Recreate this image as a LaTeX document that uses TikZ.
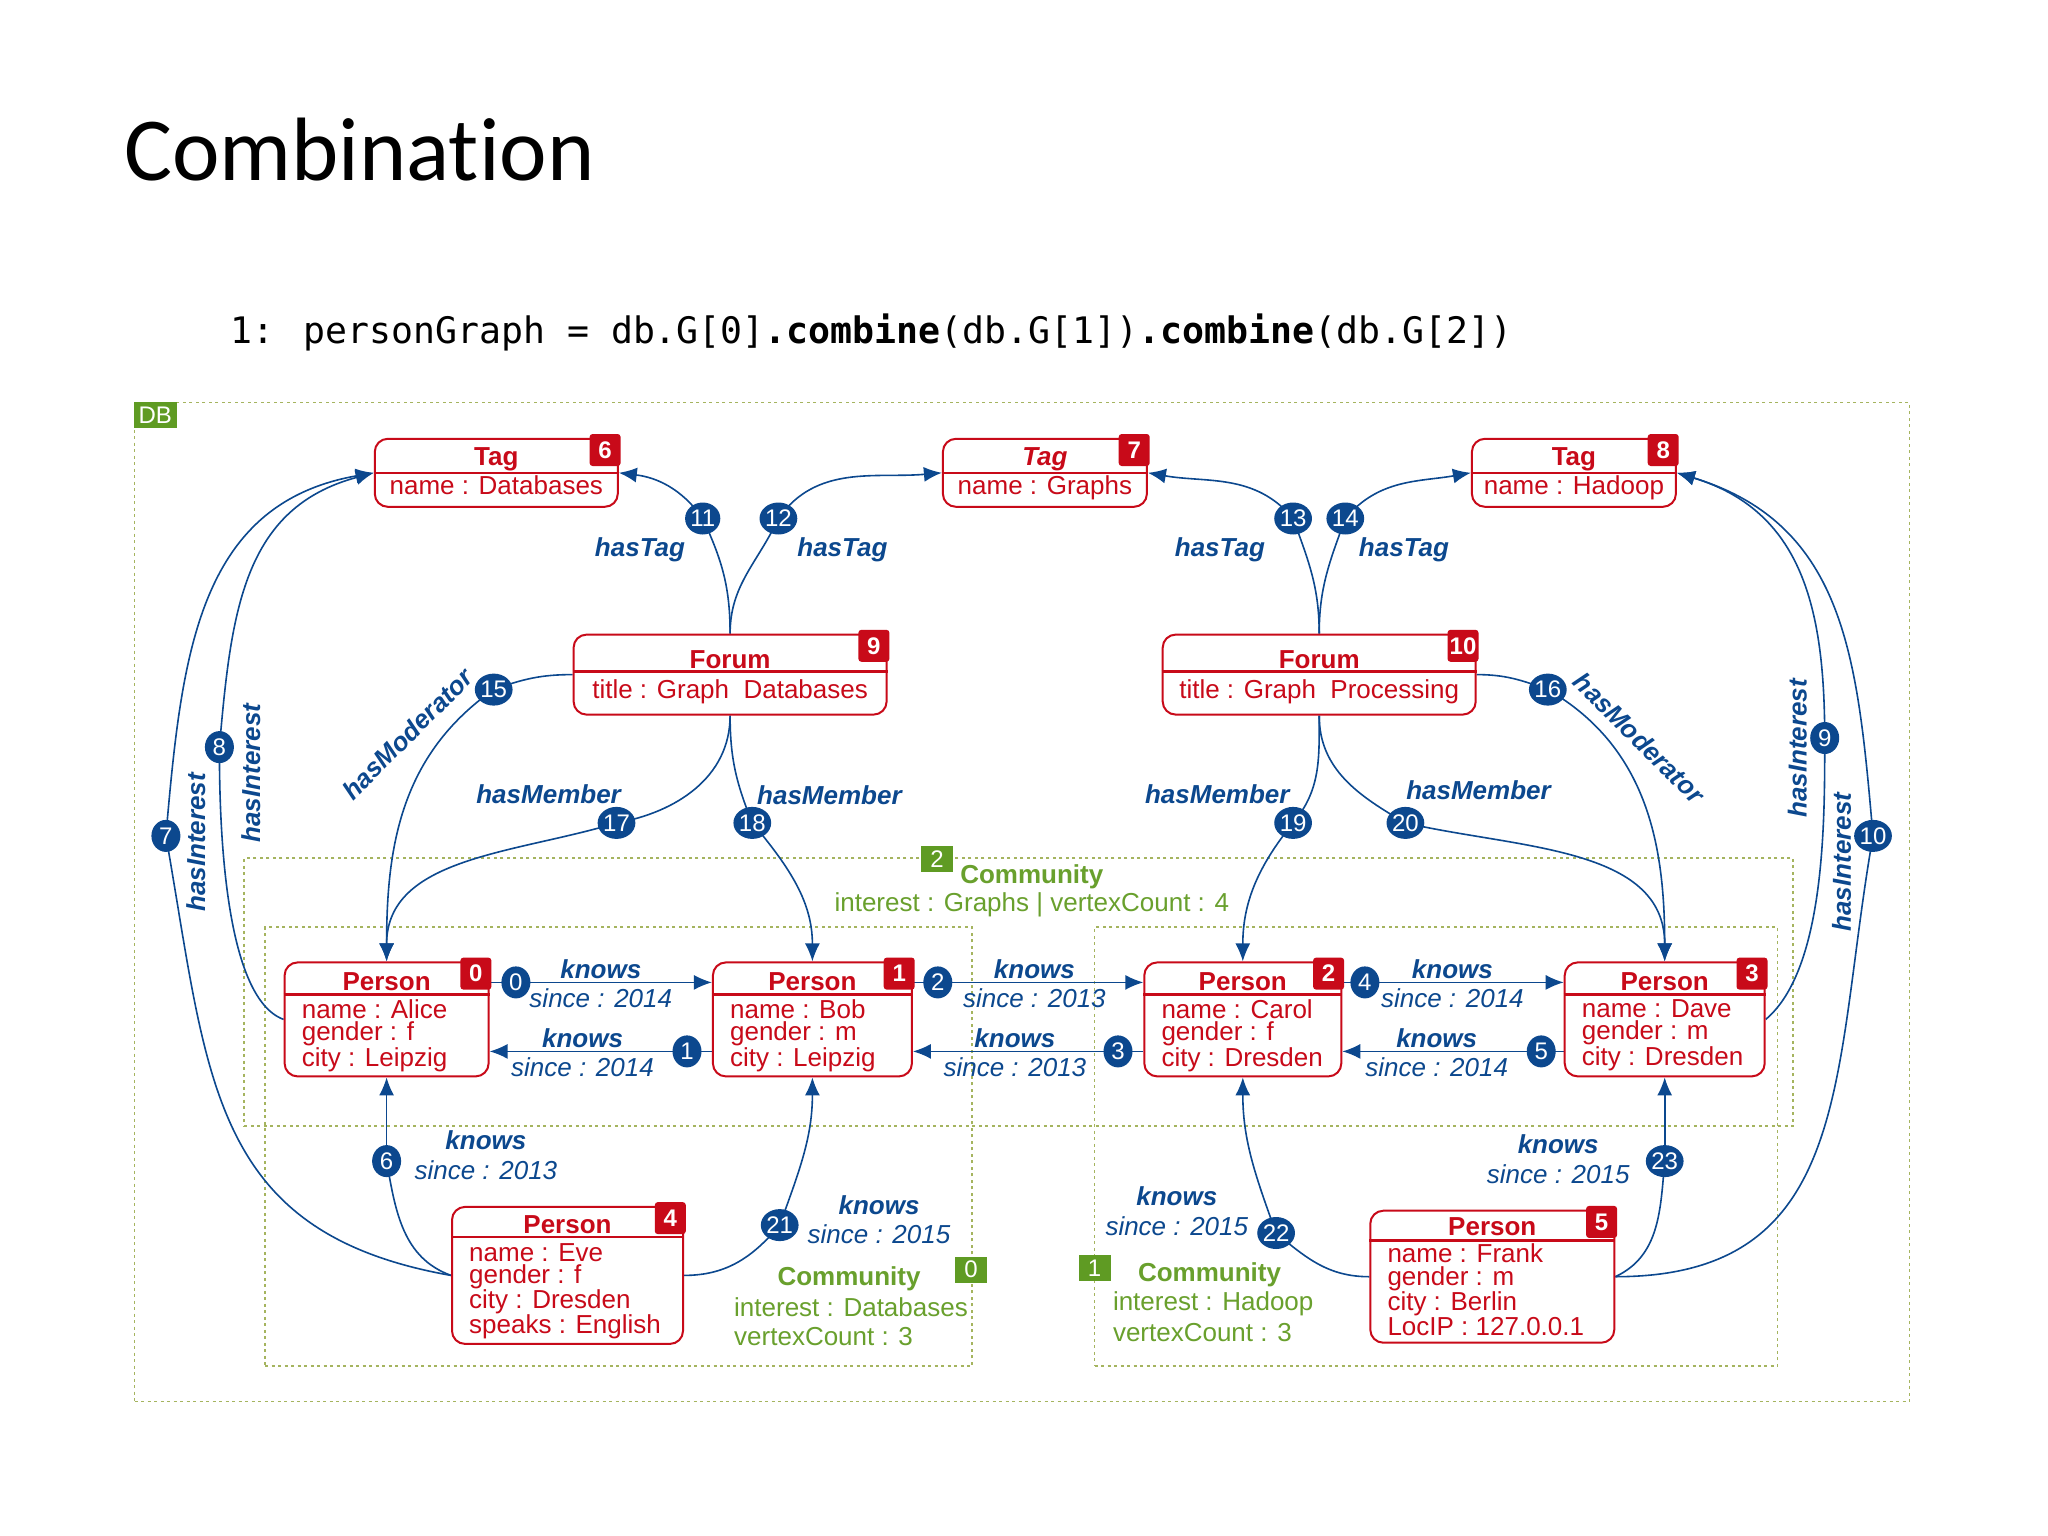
\documentclass[tikz,border=0pt]{standalone}
\usepackage{fontspec}
\usetikzlibrary{arrows.meta,shapes.geometric}
\newfontfamily\nf{Liberation Sans}
\newfontfamily\ttl[Ligatures=NoCommon]{Carlito}
\newfontfamily\cod{DejaVu Sans Mono}
\definecolor{ered}{RGB}{200,10,25}
\definecolor{eblue}{RGB}{12,72,142}
\definecolor{cgreen}{RGB}{105,160,45}
\definecolor{cbox}{RGB}{95,155,35}
\definecolor{dotc}{RGB}{165,180,95}
\pgfdeclarelayer{bg}
\pgfdeclarelayer{edges}
\pgfsetlayers{bg,edges,main}
\tikzset{
  ebox/.style={rectangle, draw=ered, line width=2pt, rounded corners=13pt, fill=white, inner sep=0pt},
  etitle/.style={text=ered, inner sep=0pt, font={\nf\bfseries\fontsize{26}{26}\selectfont}},
  eattr/.style={text=ered, inner sep=0pt, align=left, font={\nf\fontsize{26}{22.5}\selectfont}},
  ebadge/.style={rectangle, fill=ered, text=white, rounded corners=3pt, inner sep=0pt, minimum width=31pt, minimum height=32pt, font={\nf\bfseries\fontsize{24}{24}\selectfont}},
  enum/.style={ellipse, fill=eblue, text=white, inner sep=0pt, minimum width=29pt, minimum height=32pt, font={\nf\fontsize{24}{24}\selectfont}},
  eline/.style={draw=eblue, line width=1.6pt},
  arr/.style={-{Latex[length=18pt,width=15pt]}},
  elab/.style={text=eblue, inner sep=0pt, font={\nf\bfseries\itshape\fontsize{26}{26}\selectfont}},
  eprop/.style={text=eblue, inner sep=0pt, font={\nf\itshape\fontsize{26}{26}\selectfont}},
  dotbox/.style={rectangle, draw=dotc, line width=1.8pt, dash pattern=on 3pt off 3.5pt, inner sep=0pt},
  glabel/.style={rectangle, fill=cbox, text=white, inner sep=0pt, minimum width=32pt, minimum height=26pt, font={\nf\fontsize{24}{24}\selectfont}},
  ctitle/.style={text=cgreen, inner sep=0pt, font={\nf\bfseries\fontsize{26}{26}\selectfont}},
  cprop/.style={text=cgreen, inner sep=0pt, font={\nf\fontsize{26}{26}\selectfont}},
}
% name, x, y, width, height, header height, title baseline, title, badge
\newcommand\mkent[9]{%
  \node[ebox, minimum width=#4pt, minimum height=#5pt] (#1) at (#2,#3) {};
  \draw[ered, line width=2.6pt] ([yshift=-#6pt]#1.north west) -- ([yshift=-#6pt]#1.north east);
  \node[etitle, anchor=base] (#1-t) at ([yshift=-#7pt]#1.north) {#8};
  \node[ebadge, anchor=north east] (#1-b) at ([xshift=2pt,yshift=4pt]#1.north east) {#9};
}
\begin{document}
\begin{tikzpicture}[x=1pt,y=1pt]
\begin{pgfonlayer}{bg}
\fill[white] (0,0) rectangle (2048,-1536);
\node[dotbox, minimum width=1775pt, minimum height=999pt] (db) at (1022,-902) {};
\node[dotbox, minimum width=1549pt, minimum height=268pt] (comm2) at (1018.8,-992) {};
\node[dotbox, minimum width=707pt, minimum height=439pt] (comm0) at (618.5,-1146.8) {};
\node[dotbox, minimum width=683pt, minimum height=439pt] (comm1) at (1436,-1146.8) {};
\end{pgfonlayer}
\useasboundingbox (0,0) rectangle (2048,-1536);

% title and code
\node[anchor=base west, inner sep=0pt, font={\ttl\fontsize{90}{90}\selectfont}] (title) at (124,-180) {Combination};
\node[anchor=base west, inner sep=0pt, font={\cod\fontsize{36.5}{40}\selectfont}] (code) at (230,-343) {1: personGraph = db.G[0]{\bfseries.combine}(db.G[1]){\bfseries.combine}(db.G[2])};

% community labels
\node[glabel, minimum width=43pt, anchor=north west] (dbl) at (db.north west) {DB};
\node[glabel] (g2) at (937.1,-858.8) {2};
\node[glabel] (g0) at (971.1,-1269.5) {0};
\node[glabel] (g1) at (1094.5,-1268.2) {1};
\node[ctitle] (c2t) at (1031.8,-876.4) {Community};
\node[cprop] (c2p) at (1031.8,-905.1) {interest : Graphs | vertexCount : 4};
\node[ctitle] (c0t) at (849,-1278.7) {Community};
\node[cprop, anchor=west] (c0p1) at (734,-1307.4) {interest : Databases};
\node[cprop, anchor=west] (c0p2) at (734,-1336.2) {vertexCount : 3};
\node[ctitle] (c1t) at (1209.5,-1274.8) {Community};
\node[cprop, anchor=west] (c1p1) at (1112.8,-1303.5) {interest : Hadoop};
\node[cprop, anchor=west] (c1p2) at (1112.8,-1332.2) {vertexCount : 3};

% entities
\mkent{tag6}{496.3}{-472.8}{243}{68}{35}{28}{Tag}{6}
\node[eattr, anchor=base] (tag6-a) at ([yshift=-57pt]tag6.north) {name : Databases};
\mkent{tag7}{1044.9}{-472.8}{204}{68}{35}{28}{\itshape Tag}{7}
\node[eattr, anchor=base] (tag7-a) at ([yshift=-57pt]tag7.north) {name : Graphs};
\mkent{tag8}{1573.9}{-472.8}{204}{68}{35}{28}{Tag}{8}
\node[eattr, anchor=base] (tag8-a) at ([yshift=-57pt]tag8.north) {name : Hadoop};
\mkent{forum9}{730.1}{-674.6}{313}{80}{38}{35}{Forum}{9}
\node[eattr, anchor=base] (forum9-a) at ([yshift=-65pt]forum9.north) {title : Graph\ \ Databases};
\mkent{forum10}{1319.2}{-674.6}{313}{80}{38}{35}{Forum}{10}
\node[eattr, anchor=base] (forum10-a) at ([yshift=-65pt]forum10.north) {title : Graph\ \ Processing};
\mkent{p0}{386.6}{-1019.4}{204}{114}{33}{29}{Person}{0}
\node[eattr, anchor=north west] (p0-a) at ([xshift=18pt,yshift=-38pt]p0.north west) {name : Alice\\gender : f\\city : Leipzig};
\mkent{p1}{812.4}{-1019.4}{199}{114}{33}{29}{Person}{1}
\node[eattr, anchor=north west] (p1-a) at ([xshift=18pt,yshift=-38pt]p1.north west) {name : Bob\\gender : m\\city : Leipzig};
\mkent{p2}{1242.8}{-1019.4}{197}{114}{33}{29}{Person}{2}
\node[eattr, anchor=north west] (p2-a) at ([xshift=18pt,yshift=-38pt]p2.north west) {name : Carol\\gender : f\\city : Dresden};
\mkent{p3}{1664.7}{-1019.4}{200}{114}{33}{29}{Person}{3}
\node[eattr, anchor=north west] (p3-a) at ([xshift=18pt,yshift=-38pt]p3.north west) {name : Dave\\gender : m\\city : Dresden};
\mkent{p4}{567.5}{-1275.4}{231}{137}{31}{27.5}{Person}{4}
\node[eattr, anchor=north west] (p4-a) at ([xshift=18pt,yshift=-37pt]p4.north west) {name : Eve\\gender : f\\city : Dresden\\speaks : English};
\mkent{p5}{1492.3}{-1276.7}{244}{132}{31}{26}{Person}{5}
\node[eattr, anchor=north west] (p5-a) at ([xshift=18pt,yshift=-34pt]p5.north west) {name : Frank\\gender : m\\city : Berlin\\LocIP : 127.0.0.1};

% edge numbers
\node[enum] (c0) at (515.9,-982.4) {0};
\node[enum] (c1) at (687.0,-1051.4) {1};
\node[enum] (c2) at (937.8,-982.4) {2};
\node[enum] (c3) at (1118.0,-1051.4) {3};
\node[enum] (c4) at (1364.9,-982.4) {4};
\node[enum] (c5) at (1541.2,-1051.4) {5};
\node[enum] (c6) at (386.6,-1161.1) {6};
\node[enum] (c7) at (165.9,-835.9) {7};
\node[enum] (c8) at (219.4,-747.1) {8};
\node[enum] (c9) at (1824.7,-738.0) {9};
\node[enum] (c10) at (1873.0,-835.9) {10};
\node[enum] (c11) at (702.7,-518.5) {11};
\node[enum] (c12) at (778.4,-518.5) {12};
\node[enum] (c13) at (1293.1,-518.5) {13};
\node[enum] (c14) at (1345.3,-518.5) {14};
\node[enum] (c15) at (493.7,-689.6) {15};
\node[enum] (c16) at (1547.8,-689.6) {16};
\node[enum] (c17) at (616.5,-822.9) {17};
\node[enum] (c18) at (752.3,-822.9) {18};
\node[enum] (c19) at (1293.1,-822.9) {19};
\node[enum] (c20) at (1405.4,-822.9) {20};
\node[enum] (c21) at (779.7,-1225.1) {21};
\node[enum] (c22) at (1276.1,-1233.0) {22};
\node[enum] (c23) at (1664.7,-1161.1) {23};

% edge labels
\node[elab] (l0k) at (600.8,-969.1) {knows};
\node[eprop] (l0s) at (600.8,-997.9) {since : 2014};
\node[elab] (l1k) at (582.5,-1038.4) {knows};
\node[eprop] (l1s) at (582.5,-1067.1) {since : 2014};
\node[elab] (l2k) at (1034.4,-969.1) {knows};
\node[eprop] (l2s) at (1034.4,-997.9) {since : 2013};
\node[elab] (l3k) at (1014.9,-1038.4) {knows};
\node[eprop] (l3s) at (1014.9,-1067.1) {since : 2013};
\node[elab] (l4k) at (1452.4,-969.1) {knows};
\node[eprop] (l4s) at (1452.4,-997.9) {since : 2014};
\node[elab] (l5k) at (1436.7,-1038.4) {knows};
\node[eprop] (l5s) at (1436.7,-1067.1) {since : 2014};
\node[elab] (l6k) at (485.9,-1140.2) {knows};
\node[eprop] (l6s) at (485.9,-1170.3) {since : 2013};
\node[elab] (l21k) at (879.0,-1205.5) {knows};
\node[eprop] (l21s) at (879.0,-1234.3) {since : 2015};
\node[elab] (l22k) at (1176.8,-1196.4) {knows};
\node[eprop] (l22s) at (1176.8,-1226.4) {since : 2015};
\node[elab] (l23k) at (1558.2,-1144.2) {knows};
\node[eprop] (l23s) at (1558.2,-1174.2) {since : 2015};
\node[elab] (l11) at (640.0,-549.9) {hasTag};
\node[elab] (l12) at (842.4,-549.9) {hasTag};
\node[elab] (l13) at (1219.9,-549.9) {hasTag};
\node[elab] (l14) at (1404.0,-549.9) {hasTag};
\node[elab] (l17) at (548.6,-794.1) {hasMember};
\node[elab] (l18) at (829.4,-795.4) {hasMember};
\node[elab] (l19) at (1217.3,-794.1) {hasMember};
\node[elab] (l20) at (1478.5,-790.2) {hasMember};
\node[elab, rotate=45] (l15) at (407.5,-734.0) {hasModerator};
\node[elab, rotate=-45] (l16) at (1639.2,-738.0) {hasModerator};
\node[elab, rotate=90] (l7) at (195.9,-842.4) {hasInterest};
\node[elab, rotate=90] (l8) at (250.8,-773.2) {hasInterest};
\node[elab, rotate=90] (l9) at (1797.2,-748.4) {hasInterest};
\node[elab, rotate=90] (l10) at (1841.6,-862.0) {hasInterest};

\begin{pgfonlayer}{edges}
% knows (horizontal)
\draw[eline] ([yshift=37pt]p0.east) -- (c0.center);
\draw[eline,arr] (c0.center) -- ([yshift=37pt]p1.west);
\draw[eline] ([yshift=-32pt]p1.west) -- (c1.center);
\draw[eline,arr] (c1.center) -- ([yshift=-32pt]p0.east);
\draw[eline] ([yshift=37pt]p1.east) -- (c2.center);
\draw[eline,arr] (c2.center) -- ([yshift=37pt]p2.west);
\draw[eline] ([yshift=-32pt]p2.west) -- (c3.center);
\draw[eline,arr] (c3.center) -- ([yshift=-32pt]p1.east);
\draw[eline] ([yshift=37pt]p2.east) -- (c4.center);
\draw[eline,arr] (c4.center) -- ([yshift=37pt]p3.west);
\draw[eline] ([yshift=-32pt]p3.west) -- (c5.center);
\draw[eline,arr] (c5.center) -- ([yshift=-32pt]p2.east);
% 6
\draw[eline] (p4.west) to[out=160,in=-80] (c6.center);
\draw[eline,arr] (c6.center) -- (p0.south);
% 7
\draw[eline] (p4.west) to[out=170,in=-80,looseness=1.2] (c7.center);
\draw[eline,arr] (c7.center) to[out=85,in=190,looseness=1.1] (tag6.west);
% 8
\draw[eline] (p0.west) to[out=160,in=-90,looseness=0.6] (c8.center);
\draw[eline,arr] (c8.center) to[out=85,in=195,looseness=1.1] (tag6.west);
% 9
\draw[eline] (p3.east) to[out=40,in=-90,looseness=0.7] (c9.center);
\draw[eline,arr] (c9.center) to[out=90,in=-17,looseness=1.1] (tag8.east);
% 10
\draw[eline] (p5.east) to[out=0,in=-100,looseness=1.2] (c10.center);
\draw[eline,arr] (c10.center) to[out=95,in=-17,looseness=1.1] (tag8.east);
% 11 - 14
\draw[eline] (forum9.north) to[out=90,in=-65] (c11.center);
\draw[eline,arr] (c11.center) to[out=125,in=-7] (tag6.east);
\draw[eline] (forum9.north) to[out=90,in=-115] (c12.center);
\draw[eline,arr] (c12.center) to[out=55,in=185] (tag7.west);
\draw[eline] (forum10.north) to[out=90,in=-70] (c13.center);
\draw[eline,arr] (c13.center) to[out=130,in=-10] (tag7.east);
\draw[eline] (forum10.north) to[out=90,in=-110] (c14.center);
\draw[eline,arr] (c14.center) to[out=50,in=190] (tag8.west);
% 15, 16
\draw[eline] (forum9.west) to[out=180,in=20] (c15.center);
\draw[eline,arr] (c15.center) to[out=215,in=90] (p0.north);
\draw[eline] (forum10.east) to[out=0,in=160] (c16.center);
\draw[eline,arr] (c16.center) to[out=-30,in=90] (p3.north);
% 17 - 20
\draw[eline] (forum9.south) to[out=-90,in=10] (c17.center);
\draw[eline,arr] (c17.center) to[out=197,in=90] (p0.north);
\draw[eline] (forum9.south) to[out=-90,in=112] (c18.center);
\draw[eline,arr] (c18.center) to[out=-50,in=90] (p1.north);
\draw[eline] (forum10.south) to[out=-90,in=50] (c19.center);
\draw[eline,arr] (c19.center) to[out=231,in=90] (p2.north);
\draw[eline] (forum10.south) to[out=-90,in=150] (c20.center);
\draw[eline,arr] (c20.center) to[out=-13,in=90] (p3.north);
% 21 - 23
\draw[eline] (p4.east) to[out=0,in=-130] (c21.center);
\draw[eline,arr] (c21.center) to[out=70,in=-90] (p1.south);
\draw[eline] (p5.west) to[out=180,in=-40] (c22.center);
\draw[eline,arr] (c22.center) to[out=110,in=-90] (p2.south);
\draw[eline] (p5.east) to[out=25,in=-95] (c23.center);
\draw[eline,arr] (c23.center) -- (p3.south);
\end{pgfonlayer}
\end{tikzpicture}
\end{document}
